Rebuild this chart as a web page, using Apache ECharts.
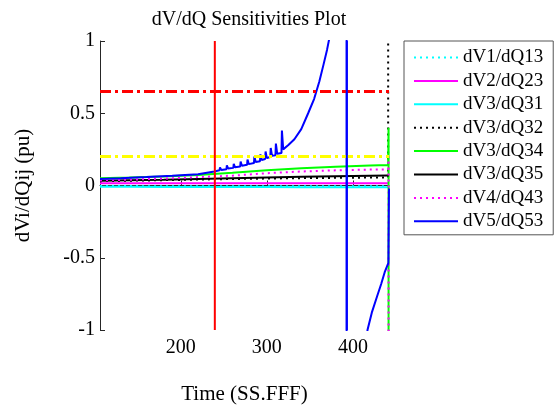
<!DOCTYPE html>
<html>
<head>
<meta charset="utf-8">
<script src="https://cdn.jsdelivr.net/npm/echarts@6/dist/echarts.min.js"></script>
<style>
  html, body { margin: 0; padding: 0; background: #fff; }
  #chart { width: 559px; height: 405px; }
</style>
</head>
<body>
<div id="chart"></div>
<script>
// time samples shared by the slowly varying sensitivities
var timeSS = [106, 140, 180, 220, 260, 300, 340, 380, 420, 441, 441.5, 442];
var dV1dQ13 = [-0.004, -0.004, -0.005, -0.005, -0.005, -0.006, -0.006, -0.006, -0.006, -0.006, -0.006, -0.006];
var dV2dQ23 = [0.015, 0.015, 0.016, 0.016, 0.016, 0.016, 0.016, 0.016, 0.016, 0.016, 0.016, 0.016];
var dV3dQ31 = [-0.008, -0.009, -0.01, -0.01, -0.011, -0.011, -0.012, -0.012, -0.012, -0.012, -0.012, -0.012];
var dV3dQ32 = [0.03, 0.033, 0.037, 0.041, 0.045, 0.048, 0.051, 0.053, 0.055, 0.056, 0.06, 50];
var dV3dQ34 = [0.05, 0.055, 0.062, 0.072, 0.088, 0.105, 0.12, 0.13, 0.138, 0.142, 0.4, -50];
var dV3dQ35 = [0.033, 0.036, 0.04, 0.045, 0.05, 0.055, 0.06, 0.064, 0.068, 0.07, 0.07, 0.07];
var dV4dQ43 = [0.035, 0.04, 0.048, 0.058, 0.068, 0.085, 0.097, 0.105, 0.11, 0.112, 0.2, -50];

// dV5/dQ53 has its own (denser) time samples
var timeV5 = [106, 130, 160, 190, 220, 239, 245, 245.5, 247, 253, 253.5, 255, 261, 261.5, 263,
  269, 269.5, 271, 277, 277.5, 279, 285, 285.5, 287, 292, 292.5, 294, 298, 298.5, 300,
  304, 304.5, 306, 310, 310.5, 312, 317, 317.5, 319, 325, 332, 340, 348, 355, 361, 366, 370, 374,
  392.5, 393, 412, 417, 422, 428, 433, 437, 441.3, 442];
var dV5dQ53 = [0.045, 0.05, 0.058, 0.067, 0.078, 0.097, 0.105, 0.125, 0.108, 0.113, 0.14, 0.117, 0.122, 0.15, 0.126,
  0.132, 0.165, 0.137, 0.143, 0.18, 0.148, 0.155, 0.2, 0.162, 0.168, 0.215, 0.176, 0.183, 0.235, 0.19,
  0.197, 0.26, 0.205, 0.21, 0.29, 0.22, 0.225, 0.38, 0.25, 0.28, 0.32, 0.39, 0.5, 0.6, 0.72, 0.84, 0.94, 1.06,
  50, -50, -1.4, -1.0, -0.88, -0.77, -0.68, -0.6, -0.535, -0.02];

// reference lines
var limitRed = 0.65;
var limitYellow = 0.2;
var eventRed = 239.5;
var eventBlue = 393;
var xTicks = [200, 300, 400];
var xRange = [106, 442];

function pairs(xs, ys) {
    var out = [];
    for (var i = 0; i < xs.length; i++) {
        out.push([xs[i], ys[i]]);
    }
    return out;
}

var serif = 'Liberation Serif';
var chart = echarts.init(document.getElementById('chart'));

function lineSeries(name, xs, ys, color, type) {
    return {
        name: name,
        type: 'line',
        data: pairs(xs, ys),
        symbol: 'none',
        animation: false,
        clip: true,
        lineStyle: {color: color, width: 2, type: type},
        itemStyle: {color: color}
    };
}

var dotted = [2, 4];
var dashDot = [11, 4, 3, 4];

var series = [
    lineSeries('dV1/dQ13', timeSS, dV1dQ13, '#00ffff', dotted),
    lineSeries('dV2/dQ23', timeSS, dV2dQ23, '#ff00ff', 'solid'),
    lineSeries('dV3/dQ31', timeSS, dV3dQ31, '#00ffff', 'solid'),
    lineSeries('dV3/dQ32', timeSS, dV3dQ32, '#000000', dotted),
    lineSeries('dV3/dQ34', timeSS, dV3dQ34, '#00ff00', 'solid'),
    lineSeries('dV3/dQ35', timeSS, dV3dQ35, '#000000', 'solid'),
    lineSeries('dV4/dQ43', timeSS, dV4dQ43, '#ff00ff', dotted),
    lineSeries('dV5/dQ53', timeV5, dV5dQ53, '#0000ff', 'solid'),
    lineSeries('limit1', xRange, [limitRed, limitRed], '#ff0000', dashDot),
    lineSeries('limit2', xRange, [limitYellow, limitYellow], '#ffff00', dashDot),
    lineSeries('event1', [eventRed, eventRed], [-1, 1], '#ff0000', 'solid'),
    lineSeries('event2', [eventBlue, eventBlue], [-1, 1], '#0000ff', 'solid')
];
series[8].lineStyle.width = 3;
series[9].lineStyle.width = 3;

var option = {
    backgroundColor: '#ffffff',
    animation: false,
    title: {
        text: 'dV/dQ Sensitivities Plot',
        left: 244,
        textAlign: 'center',
        top: 5,
        textStyle: {fontFamily: serif, fontSize: 20, fontWeight: 'normal', color: '#000'}
    },
    legend: {
        data: ['dV1/dQ13', 'dV2/dQ23', 'dV3/dQ31', 'dV3/dQ32', 'dV3/dQ34', 'dV3/dQ35', 'dV4/dQ43', 'dV5/dQ53'],
        orient: 'vertical',
        left: 404,
        top: 41,
        width: 144,
        padding: [7, 10, 4, 9],
        itemGap: 4.4,
        itemWidth: 44,
        itemHeight: 14,
        itemStyle: {opacity: 0},
        borderColor: '#555',
        borderWidth: 1,
        backgroundColor: '#fff',
        textStyle: {fontFamily: serif, fontSize: 19, color: '#000', lineHeight: 18}
    },
    grid: {left: 100, right: 170, top: 41, bottom: 75, containLabel: false, outerBoundsMode: 'none'},
    xAxis: {
        type: 'value',
        min: xRange[0],
        max: xRange[1],
        name: 'Time (SS.FFF)',
        nameLocation: 'middle',
        nameGap: 54,
        nameTextStyle: {fontFamily: serif, fontSize: 21, color: '#000'},
        axisLine: {lineStyle: {color: '#262626', width: 1}},
        axisTick: {inside: true, length: 5, customValues: xTicks, lineStyle: {color: '#262626'}},
        axisLabel: {customValues: xTicks, fontFamily: serif, fontSize: 20, color: '#000', margin: 8},
        splitLine: {show: false}
    },
    yAxis: {
        type: 'value',
        min: -1,
        max: 1,
        interval: 0.5,
        name: 'dVi/dQij (pu)',
        nameLocation: 'middle',
        nameGap: 66,
        nameTextStyle: {fontFamily: serif, fontSize: 21, color: '#000'},
        axisLine: {show: true, lineStyle: {color: '#262626', width: 1}},
        axisTick: {show: true, inside: true, length: 5, lineStyle: {color: '#262626'}},
        axisLabel: {fontFamily: serif, fontSize: 20, color: '#000', margin: 5},
        splitLine: {show: false}
    },
    series: series
};

chart.setOption(option);
</script>
</body>
</html>
